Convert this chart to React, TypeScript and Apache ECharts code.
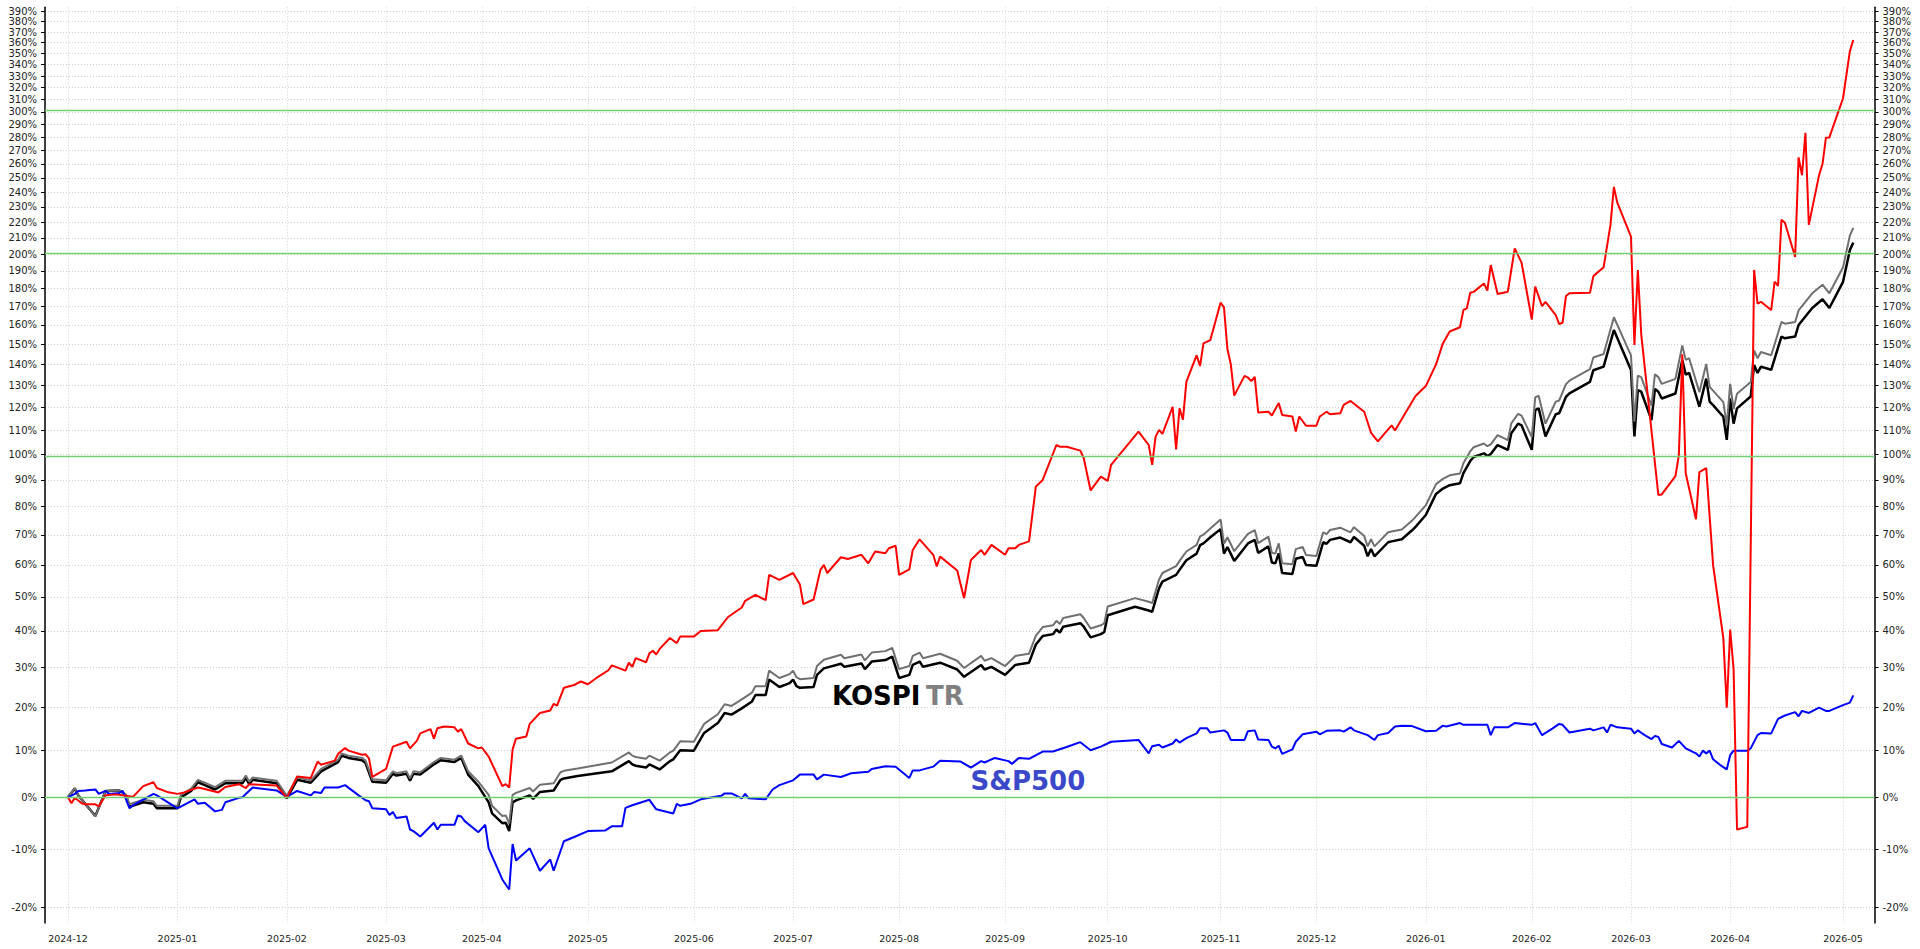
import React, { useEffect, useRef } from "react";
import * as echarts from "echarts";

type Pt = [string, number];

// Cumulative return in %
const stock: Pt[] = [
  ["2024-12-01", 0], ["2024-12-02", -1.2], ["2024-12-03", -0.1], ["2024-12-05", -1.2], ["2024-12-06", -1.4],
  ["2024-12-09", -1.4], ["2024-12-10", -1.8], ["2024-12-12", 0.4], ["2024-12-15", 0.6], ["2024-12-20", 0.1],
  ["2024-12-23", 2.3], ["2024-12-26", 3.1], ["2024-12-27", 1.9], ["2024-12-30", 1.1], ["2025-01-02", 0.7],
  ["2025-01-04", 1.0], ["2025-01-08", 2.0], ["2025-01-10", 1.7], ["2025-01-14", 1.0], ["2025-01-16", 2.1],
  ["2025-01-20", 2.7], ["2025-01-22", 1.9], ["2025-01-23", 2.7], ["2025-01-31", 2.4], ["2025-02-03", -0.1],
  ["2025-02-06", 4.3], ["2025-02-10", 4.0], ["2025-02-12", 7.5], ["2025-02-13", 6.8], ["2025-02-17", 7.7],
  ["2025-02-18", 9.2], ["2025-02-20", 10.5], ["2025-02-21", 9.9], ["2025-02-25", 9.0], ["2025-02-26", 9.1],
  ["2025-02-27", 8.2], ["2025-02-28", 4.2], ["2025-03-04", 5.9], ["2025-03-06", 10.8], ["2025-03-10", 11.9],
  ["2025-03-11", 10.4], ["2025-03-13", 12.1], ["2025-03-14", 13.8], ["2025-03-17", 14.8], ["2025-03-18", 12.6],
  ["2025-03-19", 15.0], ["2025-03-21", 15.4], ["2025-03-24", 15.2], ["2025-03-25", 14.2], ["2025-03-26", 14.8],
  ["2025-03-28", 11.5], ["2025-03-31", 10.4], ["2025-04-01", 10.6], ["2025-04-03", 8.6], ["2025-04-07", 2.3],
  ["2025-04-08", 2.7], ["2025-04-09", 2.0], ["2025-04-10", 10.2], ["2025-04-11", 12.6], ["2025-04-14", 13.1],
  ["2025-04-15", 16.0], ["2025-04-18", 18.6], ["2025-04-21", 19.2], ["2025-04-22", 20.8], ["2025-04-23", 20.4],
  ["2025-04-25", 24.8], ["2025-04-28", 25.5], ["2025-04-30", 26.4], ["2025-05-02", 25.7], ["2025-05-05", 27.6],
  ["2025-05-08", 29.3], ["2025-05-09", 30.6], ["2025-05-13", 29.2], ["2025-05-14", 31.3], ["2025-05-15", 30.2],
  ["2025-05-16", 32.5], ["2025-05-19", 31.4], ["2025-05-20", 33.8], ["2025-05-21", 34.5], ["2025-05-22", 33.5],
  ["2025-05-23", 35.0], ["2025-05-26", 38.0], ["2025-05-28", 36.6], ["2025-05-29", 38.4], ["2025-06-02", 38.4],
  ["2025-06-04", 40.0], ["2025-06-09", 40.2], ["2025-06-12", 44.0], ["2025-06-16", 46.8], ["2025-06-17", 48.8],
  ["2025-06-20", 50.6], ["2025-06-23", 49.0], ["2025-06-24", 56.8], ["2025-06-27", 55.2], ["2025-07-01", 57.4],
  ["2025-07-03", 53.8], ["2025-07-04", 47.8], ["2025-07-07", 49.2], ["2025-07-09", 58.4], ["2025-07-10", 60.0],
  ["2025-07-11", 57.4], ["2025-07-15", 62.5], ["2025-07-17", 61.9], ["2025-07-21", 63.3], ["2025-07-23", 60.5],
  ["2025-07-25", 64.4], ["2025-07-28", 63.8], ["2025-07-29", 65.5], ["2025-07-31", 66.3], ["2025-08-01", 56.8],
  ["2025-08-04", 58.6], ["2025-08-05", 64.9], ["2025-08-07", 68.5], ["2025-08-11", 63.3], ["2025-08-12", 59.5],
  ["2025-08-13", 62.7], ["2025-08-18", 58.2], ["2025-08-20", 49.6], ["2025-08-22", 61.6], ["2025-08-25", 64.9],
  ["2025-08-26", 63.3], ["2025-08-28", 66.6], ["2025-09-01", 63.3], ["2025-09-02", 65.5], ["2025-09-04", 65.5],
  ["2025-09-05", 66.6], ["2025-09-08", 67.8], ["2025-09-10", 87.5], ["2025-09-12", 90.0], ["2025-09-16", 103.9],
  ["2025-09-17", 103.2], ["2025-09-19", 103.2], ["2025-09-23", 101.6], ["2025-09-24", 98.5], ["2025-09-26", 86.0],
  ["2025-09-29", 91.3], ["2025-10-01", 89.6], ["2025-10-02", 95.9], ["2025-10-10", 109.5], ["2025-10-13", 103.9],
  ["2025-10-14", 95.9], ["2025-10-15", 107.4], ["2025-10-16", 110.2], ["2025-10-17", 108.5], ["2025-10-20", 120.3],
  ["2025-10-21", 102.1], ["2025-10-22", 119.6], ["2025-10-23", 114.6], ["2025-10-24", 131.7], ["2025-10-27", 144.5],
  ["2025-10-28", 139.2], ["2025-10-29", 150.4], ["2025-10-31", 152.1], ["2025-11-03", 171.9], ["2025-11-04", 169.3],
  ["2025-11-05", 147.6], ["2025-11-06", 140.0], ["2025-11-07", 125.3], ["2025-11-10", 134.5], ["2025-11-11", 133.7],
  ["2025-11-12", 132.0], ["2025-11-13", 134.0], ["2025-11-14", 117.7], ["2025-11-17", 118.1], ["2025-11-18", 116.4],
  ["2025-11-20", 122.0], ["2025-11-21", 116.7], ["2025-11-24", 116.0], ["2025-11-25", 109.5], ["2025-11-26", 116.0],
  ["2025-11-28", 112.0], ["2025-12-01", 112.0], ["2025-12-02", 116.0], ["2025-12-04", 118.1], ["2025-12-05", 117.0],
  ["2025-12-08", 117.4], ["2025-12-09", 121.1], ["2025-12-11", 122.9], ["2025-12-15", 118.1], ["2025-12-17", 109.0],
  ["2025-12-19", 105.4], ["2025-12-23", 112.2], ["2025-12-24", 110.0], ["2025-12-30", 125.1], ["2026-01-02", 129.7],
  ["2026-01-05", 140.0], ["2026-01-07", 150.4], ["2026-01-09", 156.5], ["2026-01-12", 158.7], ["2026-01-13", 167.9],
  ["2026-01-14", 168.8], ["2026-01-15", 177.4], ["2026-01-16", 177.9], ["2026-01-19", 182.7], ["2026-01-20", 178.6],
  ["2026-01-21", 193.4], ["2026-01-23", 176.7], ["2026-01-26", 178.0], ["2026-01-28", 203.4], ["2026-01-30", 194.8],
  ["2026-02-02", 162.8], ["2026-02-03", 180.9], ["2026-02-05", 170.0], ["2026-02-06", 172.4], ["2026-02-09", 165.2],
  ["2026-02-10", 160.4], ["2026-02-11", 161.1], ["2026-02-12", 175.6], ["2026-02-13", 177.1], ["2026-02-19", 177.4],
  ["2026-02-20", 186.9], ["2026-02-23", 192.1], ["2026-02-25", 218.2], ["2026-02-26", 243.6], ["2026-02-27", 232.8],
  ["2026-03-03", 210.7], ["2026-03-04", 149.6], ["2026-03-05", 190.5], ["2026-03-06", 155.0], ["2026-03-11", 84.3],
  ["2026-03-12", 84.5], ["2026-03-16", 91.5], ["2026-03-17", 99.8], ["2026-03-18", 145.0], ["2026-03-19", 92.6],
  ["2026-03-22", 75.5], ["2026-03-23", 93.0], ["2026-03-25", 94.6], ["2026-03-27", 60.0], ["2026-03-30", 38.0],
  ["2026-03-31", 19.9], ["2026-04-01", 40.4], ["2026-04-02", 29.6], ["2026-04-03", -6.3], ["2026-04-06", -5.8],
  ["2026-04-08", 190.5], ["2026-04-09", 171.4], ["2026-04-10", 172.4], ["2026-04-13", 167.9], ["2026-04-14", 183.8],
  ["2026-04-15", 181.3], ["2026-04-16", 221.6], ["2026-04-17", 219.6], ["2026-04-20", 198.3], ["2026-04-21", 264.8],
  ["2026-04-22", 251.9], ["2026-04-23", 283.3], ["2026-04-24", 218.2], ["2026-04-27", 251.9], ["2026-04-28", 259.9],
  ["2026-04-29", 279.6], ["2026-04-30", 279.8], ["2026-05-04", 311.1], ["2026-05-06", 352.2], ["2026-05-07", 362.5],
];

const kospi: Pt[] = [
  ["2024-12-01", 0], ["2024-12-03", 1.8], ["2024-12-04", 0.4], ["2024-12-09", -3.7], ["2024-12-12", 1.3],
  ["2024-12-16", 1.4], ["2024-12-18", 0.4], ["2024-12-19", -1.9], ["2024-12-23", -1.0], ["2024-12-26", -1.3],
  ["2024-12-27", -2.2], ["2025-01-02", -2.2], ["2025-01-03", 0.0], ["2025-01-06", 1.3], ["2025-01-08", 3.1],
  ["2025-01-10", 2.5], ["2025-01-13", 1.6], ["2025-01-16", 2.9], ["2025-01-21", 2.9], ["2025-01-22", 4.0],
  ["2025-01-23", 2.7], ["2025-01-24", 3.6], ["2025-01-31", 2.9], ["2025-02-03", -0.2], ["2025-02-06", 3.6],
  ["2025-02-10", 3.0], ["2025-02-13", 5.4], ["2025-02-18", 7.4], ["2025-02-19", 8.8], ["2025-02-21", 8.3],
  ["2025-02-25", 7.8], ["2025-02-26", 7.2], ["2025-02-28", 3.2], ["2025-03-04", 3.0], ["2025-03-06", 4.9],
  ["2025-03-07", 4.5], ["2025-03-10", 4.9], ["2025-03-11", 3.4], ["2025-03-12", 4.9], ["2025-03-14", 4.7],
  ["2025-03-18", 6.9], ["2025-03-20", 7.8], ["2025-03-24", 7.4], ["2025-03-26", 8.3], ["2025-03-28", 4.7],
  ["2025-03-31", 2.3], ["2025-04-03", -1.0], ["2025-04-04", -3.2], ["2025-04-07", -5.1], ["2025-04-08", -5.0],
  ["2025-04-09", -6.6], ["2025-04-10", -1.0], ["2025-04-11", -0.6], ["2025-04-15", 0.4], ["2025-04-16", -0.3],
  ["2025-04-18", 1.1], ["2025-04-22", 1.4], ["2025-04-24", 3.6], ["2025-04-25", 3.9], ["2025-04-29", 4.4],
  ["2025-05-09", 5.4], ["2025-05-14", 7.6], ["2025-05-15", 6.9], ["2025-05-16", 6.6], ["2025-05-19", 6.2],
  ["2025-05-20", 6.9], ["2025-05-23", 5.8], ["2025-05-26", 7.6], ["2025-05-27", 8.0], ["2025-05-29", 10.0],
  ["2025-06-02", 9.9], ["2025-06-05", 13.9], ["2025-06-09", 16.2], ["2025-06-11", 18.6], ["2025-06-13", 18.2],
  ["2025-06-16", 19.7], ["2025-06-19", 21.4], ["2025-06-20", 23.0], ["2025-06-23", 23.0], ["2025-06-24", 26.9],
  ["2025-06-27", 25.0], ["2025-06-30", 26.0], ["2025-07-01", 26.9], ["2025-07-02", 25.2], ["2025-07-03", 24.8],
  ["2025-07-07", 25.0], ["2025-07-08", 28.1], ["2025-07-10", 29.8], ["2025-07-15", 31.0], ["2025-07-16", 30.2],
  ["2025-07-21", 31.1], ["2025-07-22", 29.6], ["2025-07-24", 31.6], ["2025-07-28", 32.0], ["2025-07-30", 32.9],
  ["2025-08-01", 27.3], ["2025-08-04", 28.1], ["2025-08-05", 30.7], ["2025-08-07", 31.6], ["2025-08-08", 30.2],
  ["2025-08-13", 31.3], ["2025-08-18", 29.5], ["2025-08-20", 27.6], ["2025-08-25", 30.7], ["2025-08-26", 29.5],
  ["2025-08-28", 30.2], ["2025-09-01", 28.1], ["2025-09-04", 30.7], ["2025-09-08", 31.3], ["2025-09-10", 36.2],
  ["2025-09-12", 38.6], ["2025-09-15", 39.1], ["2025-09-16", 40.4], ["2025-09-17", 39.5], ["2025-09-18", 41.2],
  ["2025-09-23", 42.2], ["2025-09-24", 41.2], ["2025-09-26", 38.2], ["2025-09-29", 39.1], ["2025-09-30", 39.7],
  ["2025-10-01", 44.5], ["2025-10-09", 47.0], ["2025-10-13", 45.9], ["2025-10-14", 45.5], ["2025-10-16", 52.6],
  ["2025-10-17", 54.7], ["2025-10-21", 56.8], ["2025-10-22", 58.4], ["2025-10-24", 61.5], ["2025-10-27", 63.7],
  ["2025-10-28", 66.5], ["2025-10-29", 67.1], ["2025-10-31", 69.2], ["2025-11-03", 72.0], ["2025-11-04", 63.7],
  ["2025-11-05", 65.9], ["2025-11-07", 61.3], ["2025-11-11", 67.1], ["2025-11-13", 68.3], ["2025-11-14", 63.9],
  ["2025-11-17", 66.1], ["2025-11-18", 60.8], ["2025-11-19", 60.5], ["2025-11-20", 63.8], ["2025-11-21", 57.4],
  ["2025-11-24", 57.1], ["2025-11-25", 62.0], ["2025-11-27", 62.6], ["2025-11-28", 60.0], ["2025-12-01", 59.7],
  ["2025-12-03", 67.5], ["2025-12-04", 67.0], ["2025-12-05", 68.3], ["2025-12-08", 69.1], ["2025-12-11", 67.5],
  ["2025-12-12", 69.3], ["2025-12-15", 66.3], ["2025-12-16", 62.8], ["2025-12-17", 65.2], ["2025-12-18", 62.8],
  ["2025-12-22", 67.5], ["2025-12-23", 67.8], ["2025-12-26", 68.5], ["2025-12-29", 71.6], ["2025-12-30", 72.8],
  ["2026-01-02", 77.0], ["2026-01-05", 84.7], ["2026-01-07", 86.7], ["2026-01-09", 88.0], ["2026-01-12", 88.7],
  ["2026-01-13", 92.6], ["2026-01-15", 97.4], ["2026-01-16", 99.0], ["2026-01-19", 100.5], ["2026-01-20", 99.4],
  ["2026-01-21", 100.2], ["2026-01-23", 103.9], ["2026-01-26", 101.9], ["2026-01-27", 108.8], ["2026-01-29", 112.9],
  ["2026-01-30", 112.2], ["2026-02-02", 101.9], ["2026-02-03", 118.8], ["2026-02-04", 119.6], ["2026-02-06", 107.5],
  ["2026-02-09", 117.0], ["2026-02-10", 117.4], ["2026-02-12", 124.8], ["2026-02-13", 126.3], ["2026-02-19", 131.7],
  ["2026-02-20", 137.2], ["2026-02-23", 138.9], ["2026-02-26", 157.3], ["2026-03-03", 137.3], ["2026-03-04", 107.5],
  ["2026-03-05", 127.8], ["2026-03-06", 127.1], ["2026-03-09", 114.4], ["2026-03-10", 128.4], ["2026-03-11", 127.1],
  ["2026-03-12", 124.0], ["2026-03-16", 126.3], ["2026-03-18", 142.1], ["2026-03-19", 135.1], ["2026-03-20", 135.9],
  ["2026-03-23", 120.3], ["2026-03-25", 133.2], ["2026-03-26", 122.6], ["2026-03-27", 121.0], ["2026-03-30", 115.9],
  ["2026-03-31", 106.0], ["2026-04-01", 124.0], ["2026-04-02", 112.9], ["2026-04-03", 119.6], ["2026-04-07", 124.9],
  ["2026-04-08", 139.7], ["2026-04-09", 135.9], ["2026-04-10", 138.9], ["2026-04-13", 137.4], ["2026-04-16", 153.9],
  ["2026-04-17", 153.0], ["2026-04-20", 153.9], ["2026-04-21", 159.9], ["2026-04-23", 164.4], ["2026-04-25", 169.0],
  ["2026-04-28", 173.8], ["2026-04-30", 169.0], ["2026-05-04", 183.6], ["2026-05-06", 202.4], ["2026-05-07", 207.0],
];

const kospiTR: Pt[] = [
  ["2024-12-01", 0], ["2024-12-03", 1.9], ["2024-12-04", 0.4], ["2024-12-09", -3.8], ["2024-12-12", 1.3],
  ["2024-12-16", 1.4], ["2024-12-18", 0.5], ["2024-12-19", -1.4], ["2024-12-23", -0.5], ["2024-12-26", -0.8],
  ["2024-12-27", -1.7], ["2025-01-02", -1.7], ["2025-01-03", 0.5], ["2025-01-06", 1.8], ["2025-01-08", 3.6],
  ["2025-01-10", 3.0], ["2025-01-13", 2.1], ["2025-01-16", 3.4], ["2025-01-21", 3.4], ["2025-01-22", 4.5],
  ["2025-01-23", 3.2], ["2025-01-24", 4.1], ["2025-01-31", 3.4], ["2025-02-03", 0.3], ["2025-02-06", 4.1],
  ["2025-02-10", 3.5], ["2025-02-13", 5.9], ["2025-02-18", 7.9], ["2025-02-19", 9.3], ["2025-02-21", 8.8],
  ["2025-02-25", 8.3], ["2025-02-26", 7.7], ["2025-02-28", 3.7], ["2025-03-04", 3.5], ["2025-03-06", 5.4],
  ["2025-03-07", 5.0], ["2025-03-10", 5.4], ["2025-03-11", 3.9], ["2025-03-12", 5.4], ["2025-03-14", 5.2],
  ["2025-03-18", 7.4], ["2025-03-20", 8.3], ["2025-03-24", 7.9], ["2025-03-26", 8.8], ["2025-03-28", 5.4],
  ["2025-03-31", 3.2], ["2025-04-03", 0.5], ["2025-04-04", -1.7], ["2025-04-07", -3.7], ["2025-04-08", -3.6],
  ["2025-04-09", -5.2], ["2025-04-10", 0.5], ["2025-04-11", 0.9], ["2025-04-15", 1.9], ["2025-04-16", 1.2],
  ["2025-04-18", 2.6], ["2025-04-22", 2.9], ["2025-04-24", 5.2], ["2025-04-25", 5.5], ["2025-04-29", 6.0],
  ["2025-05-09", 7.3], ["2025-05-14", 9.5], ["2025-05-15", 8.8], ["2025-05-16", 8.5], ["2025-05-19", 8.1],
  ["2025-05-20", 8.8], ["2025-05-23", 7.7], ["2025-05-26", 9.5], ["2025-05-27", 9.9], ["2025-05-29", 12.0],
  ["2025-06-02", 11.9], ["2025-06-05", 16.0], ["2025-06-09", 18.3], ["2025-06-11", 20.7], ["2025-06-13", 20.3],
  ["2025-06-16", 21.9], ["2025-06-19", 23.6], ["2025-06-20", 25.2], ["2025-06-23", 25.2], ["2025-06-24", 29.2],
  ["2025-06-27", 27.3], ["2025-06-30", 28.3], ["2025-07-01", 29.2], ["2025-07-02", 27.5], ["2025-07-03", 27.0],
  ["2025-07-07", 27.3], ["2025-07-08", 30.4], ["2025-07-10", 32.1], ["2025-07-15", 33.4], ["2025-07-16", 32.5],
  ["2025-07-21", 33.5], ["2025-07-22", 31.9], ["2025-07-24", 34.0], ["2025-07-28", 34.4], ["2025-07-30", 35.3],
  ["2025-08-01", 29.6], ["2025-08-04", 30.4], ["2025-08-05", 33.1], ["2025-08-07", 34.0], ["2025-08-08", 32.5],
  ["2025-08-13", 33.7], ["2025-08-18", 31.8], ["2025-08-20", 29.9], ["2025-08-25", 33.1], ["2025-08-26", 31.8],
  ["2025-08-28", 32.5], ["2025-09-01", 30.4], ["2025-09-04", 33.1], ["2025-09-08", 33.7], ["2025-09-10", 38.7],
  ["2025-09-12", 41.1], ["2025-09-15", 41.6], ["2025-09-16", 42.9], ["2025-09-17", 42.0], ["2025-09-18", 43.7],
  ["2025-09-23", 44.8], ["2025-09-24", 43.7], ["2025-09-26", 40.7], ["2025-09-29", 41.6], ["2025-09-30", 42.2],
  ["2025-10-01", 47.1], ["2025-10-09", 49.6], ["2025-10-13", 48.5], ["2025-10-14", 48.1], ["2025-10-16", 55.3],
  ["2025-10-17", 57.4], ["2025-10-21", 59.6], ["2025-10-22", 61.3], ["2025-10-24", 64.4], ["2025-10-27", 66.6],
  ["2025-10-28", 69.5], ["2025-10-29", 70.1], ["2025-10-31", 72.2], ["2025-11-03", 75.4], ["2025-11-04", 67.0],
  ["2025-11-05", 69.2], ["2025-11-07", 64.5], ["2025-11-11", 70.4], ["2025-11-13", 71.7], ["2025-11-14", 67.2],
  ["2025-11-17", 69.4], ["2025-11-18", 64.0], ["2025-11-19", 63.7], ["2025-11-20", 67.1], ["2025-11-21", 60.5],
  ["2025-11-24", 60.2], ["2025-11-25", 65.2], ["2025-11-27", 65.9], ["2025-11-28", 63.2], ["2025-12-01", 62.9],
  ["2025-12-03", 70.9], ["2025-12-04", 70.3], ["2025-12-05", 71.7], ["2025-12-08", 72.5], ["2025-12-11", 70.9],
  ["2025-12-12", 72.7], ["2025-12-15", 69.6], ["2025-12-16", 66.1], ["2025-12-17", 68.5], ["2025-12-18", 66.1],
  ["2025-12-22", 70.9], ["2025-12-23", 71.2], ["2025-12-26", 71.9], ["2025-12-29", 75.0], ["2025-12-30", 76.3],
  ["2026-01-02", 80.5], ["2026-01-05", 88.4], ["2026-01-07", 90.4], ["2026-01-09", 91.8], ["2026-01-12", 92.5],
  ["2026-01-13", 96.5], ["2026-01-15", 101.3], ["2026-01-16", 103.0], ["2026-01-19", 104.5], ["2026-01-20", 103.4],
  ["2026-01-21", 104.2], ["2026-01-23", 108.0], ["2026-01-26", 105.9], ["2026-01-27", 113.0], ["2026-01-29", 117.2],
  ["2026-01-30", 116.4], ["2026-02-02", 107.2], ["2026-02-03", 124.5], ["2026-02-04", 125.3], ["2026-02-06", 112.9],
  ["2026-02-09", 122.6], ["2026-02-10", 123.1], ["2026-02-12", 130.6], ["2026-02-13", 132.2], ["2026-02-19", 137.7],
  ["2026-02-20", 143.4], ["2026-02-23", 145.1], ["2026-02-26", 164.0], ["2026-03-03", 144.4], ["2026-03-04", 113.7],
  ["2026-03-05", 134.6], ["2026-03-06", 133.9], ["2026-03-09", 120.8], ["2026-03-10", 135.3], ["2026-03-11", 133.9],
  ["2026-03-12", 130.7], ["2026-03-16", 133.1], ["2026-03-18", 149.4], ["2026-03-19", 142.2], ["2026-03-20", 143.0],
  ["2026-03-23", 126.9], ["2026-03-25", 140.2], ["2026-03-26", 129.3], ["2026-03-27", 127.6], ["2026-03-30", 122.4],
  ["2026-03-31", 112.2], ["2026-04-01", 130.7], ["2026-04-02", 119.3], ["2026-04-03", 126.2], ["2026-04-07", 131.6],
  ["2026-04-08", 146.9], ["2026-04-09", 143.0], ["2026-04-10", 146.1], ["2026-04-13", 144.5], ["2026-04-16", 161.5],
  ["2026-04-17", 160.6], ["2026-04-20", 161.5], ["2026-04-21", 167.7], ["2026-04-23", 172.3], ["2026-04-25", 177.1],
  ["2026-04-28", 182.0], ["2026-04-30", 177.1], ["2026-05-04", 192.1], ["2026-05-06", 211.5], ["2026-05-07", 216.2],
];

const sp500: Pt[] = [
  ["2024-12-01", 0], ["2024-12-03", 0.7], ["2024-12-04", 1.3], ["2024-12-06", 1.4], ["2024-12-09", 1.6],
  ["2024-12-10", 0.7], ["2024-12-12", 1.3], ["2024-12-13", 0.7], ["2024-12-16", 0.9], ["2024-12-17", 1.3],
  ["2024-12-19", -2.2], ["2024-12-20", -1.6], ["2024-12-26", 0.7], ["2024-12-27", 0.4], ["2025-01-02", -2.2],
  ["2025-01-07", -0.4], ["2025-01-08", -1.3], ["2025-01-10", -1.1], ["2025-01-13", -2.8], ["2025-01-15", -2.5],
  ["2025-01-16", -1.0], ["2025-01-20", -0.1], ["2025-01-21", 0.0], ["2025-01-24", 2.0], ["2025-01-31", 1.4],
  ["2025-02-03", 0.1], ["2025-02-06", 1.3], ["2025-02-10", 0.4], ["2025-02-11", 1.1], ["2025-02-13", 0.9],
  ["2025-02-14", 2.0], ["2025-02-18", 2.0], ["2025-02-20", 2.5], ["2025-02-24", 0.4], ["2025-02-26", -0.6],
  ["2025-02-27", -0.8], ["2025-02-28", -2.2], ["2025-03-04", -2.4], ["2025-03-05", -3.5], ["2025-03-06", -2.9],
  ["2025-03-07", -4.1], ["2025-03-10", -3.8], ["2025-03-11", -6.3], ["2025-03-12", -6.6], ["2025-03-14", -7.6],
  ["2025-03-18", -5.0], ["2025-03-19", -6.3], ["2025-03-20", -5.4], ["2025-03-24", -5.4], ["2025-03-25", -3.6],
  ["2025-03-26", -3.8], ["2025-03-27", -4.7], ["2025-03-31", -6.8], ["2025-04-02", -5.4], ["2025-04-03", -9.8],
  ["2025-04-07", -15.3], ["2025-04-09", -17.0], ["2025-04-10", -9.0], ["2025-04-11", -12.0], ["2025-04-15", -9.8],
  ["2025-04-18", -13.8], ["2025-04-21", -11.8], ["2025-04-22", -13.8], ["2025-04-25", -8.5], ["2025-04-28", -7.7],
  ["2025-05-02", -6.6], ["2025-05-07", -6.5], ["2025-05-09", -5.7], ["2025-05-12", -5.7], ["2025-05-13", -2.1],
  ["2025-05-15", -1.6], ["2025-05-20", -0.5], ["2025-05-22", -2.4], ["2025-05-27", -3.2], ["2025-05-28", -1.3],
  ["2025-05-29", -1.7], ["2025-06-01", -1.3], ["2025-06-04", -0.4], ["2025-06-10", 0.3], ["2025-06-11", 0.8],
  ["2025-06-13", 0.8], ["2025-06-16", -0.2], ["2025-06-17", 0.7], ["2025-06-18", -0.2], ["2025-06-23", -0.4],
  ["2025-06-25", 1.6], ["2025-06-27", 2.5], ["2025-07-01", 3.5], ["2025-07-03", 4.7], ["2025-07-07", 4.7],
  ["2025-07-08", 3.7], ["2025-07-10", 4.7], ["2025-07-15", 4.2], ["2025-07-18", 5.0], ["2025-07-23", 5.3],
  ["2025-07-24", 5.9], ["2025-07-28", 6.5], ["2025-07-31", 6.4], ["2025-08-04", 4.0], ["2025-08-05", 5.6],
  ["2025-08-07", 5.6], ["2025-08-11", 6.4], ["2025-08-13", 7.7], ["2025-08-19", 7.5], ["2025-08-22", 6.2],
  ["2025-08-25", 7.6], ["2025-08-26", 7.3], ["2025-08-29", 8.3], ["2025-09-02", 7.6], ["2025-09-03", 7.0],
  ["2025-09-05", 8.3], ["2025-09-08", 8.1], ["2025-09-12", 9.7], ["2025-09-15", 9.7], ["2025-09-19", 10.7],
  ["2025-09-23", 11.8], ["2025-09-26", 10.0], ["2025-09-29", 10.8], ["2025-10-02", 11.9], ["2025-10-10", 12.3],
  ["2025-10-13", 9.3], ["2025-10-14", 10.9], ["2025-10-16", 11.2], ["2025-10-17", 10.6], ["2025-10-20", 11.5],
  ["2025-10-21", 12.4], ["2025-10-22", 11.7], ["2025-10-24", 12.7], ["2025-10-27", 13.8], ["2025-10-28", 15.0],
  ["2025-10-30", 15.0], ["2025-10-31", 14.0], ["2025-11-04", 14.5], ["2025-11-05", 14.0], ["2025-11-06", 12.3],
  ["2025-11-10", 12.3], ["2025-11-11", 14.3], ["2025-11-13", 14.5], ["2025-11-14", 12.4], ["2025-11-17", 12.3],
  ["2025-11-18", 10.8], ["2025-11-19", 10.4], ["2025-11-20", 11.0], ["2025-11-21", 9.2], ["2025-11-24", 10.2],
  ["2025-11-25", 11.9], ["2025-11-27", 13.6], ["2025-12-01", 14.2], ["2025-12-02", 13.6], ["2025-12-04", 14.4],
  ["2025-12-08", 14.5], ["2025-12-09", 14.2], ["2025-12-11", 15.2], ["2025-12-12", 14.5], ["2025-12-16", 13.4],
  ["2025-12-18", 12.3], ["2025-12-19", 13.4], ["2025-12-22", 13.9], ["2025-12-24", 15.4], ["2025-12-26", 15.6],
  ["2025-12-29", 15.5], ["2026-01-02", 14.3], ["2026-01-05", 14.4], ["2026-01-07", 15.6], ["2026-01-08", 15.4],
  ["2026-01-12", 16.2], ["2026-01-13", 15.8], ["2026-01-20", 15.8], ["2026-01-21", 13.4], ["2026-01-22", 15.2],
  ["2026-01-26", 15.2], ["2026-01-28", 16.2], ["2026-02-02", 15.8], ["2026-02-03", 16.2], ["2026-02-05", 13.4],
  ["2026-02-08", 14.9], ["2026-02-10", 16.0], ["2026-02-11", 15.8], ["2026-02-13", 14.0], ["2026-02-15", 14.3],
  ["2026-02-19", 14.9], ["2026-02-20", 14.5], ["2026-02-23", 15.2], ["2026-02-24", 14.0], ["2026-02-25", 15.8],
  ["2026-02-27", 15.2], ["2026-03-03", 14.9], ["2026-03-04", 13.8], ["2026-03-05", 14.5], ["2026-03-07", 13.4],
  ["2026-03-09", 12.5], ["2026-03-10", 13.2], ["2026-03-11", 13.0], ["2026-03-12", 11.4], ["2026-03-15", 10.6],
  ["2026-03-17", 12.1], ["2026-03-19", 10.4], ["2026-03-22", 9.3], ["2026-03-23", 8.6], ["2026-03-24", 9.9],
  ["2026-03-25", 9.3], ["2026-03-26", 9.9], ["2026-03-27", 8.0], ["2026-03-29", 6.8], ["2026-03-31", 5.8],
  ["2026-04-01", 8.9], ["2026-04-02", 9.9], ["2026-04-06", 9.9], ["2026-04-07", 10.4], ["2026-04-09", 13.4],
  ["2026-04-10", 13.9], ["2026-04-13", 13.8], ["2026-04-15", 17.2], ["2026-04-17", 18.0], ["2026-04-20", 18.8],
  ["2026-04-21", 17.8], ["2026-04-22", 19.1], ["2026-04-24", 18.6], ["2026-04-27", 19.9], ["2026-04-29", 19.1],
  ["2026-04-30", 19.1], ["2026-05-04", 20.5], ["2026-05-06", 21.1], ["2026-05-07", 22.9],
];

// First trading day of each month (x tick positions), labelled YYYY-MM
const monthTicks: string[] = [
  "2024-12-01", "2025-01-02", "2025-02-03", "2025-03-04", "2025-04-01", "2025-05-02",
  "2025-06-02", "2025-07-01", "2025-08-01", "2025-09-01", "2025-10-01", "2025-11-03",
  "2025-12-01", "2026-01-02", "2026-02-02", "2026-03-03", "2026-04-01", "2026-05-04",
];

const yTickPcts: number[] = [];
for (let p = -20; p <= 390; p += 10) yTickPcts.push(p);
const guidePcts: number[] = [0, 100, 200, 300];

const X_MIN = "2024-11-24 06:43";
const X_MAX = "2026-05-13 04:48";
const Y_MIN_PCT = -22.44;
const Y_MAX_PCT = 394.1;

// local-time parse of "YYYY-MM-DD" or "YYYY-MM-DD HH:mm"
const ts = (s: string) => {
  const [d, t] = s.split(" ");
  const [y, m, dd] = d.split("-").map(Number);
  const [hh, mm] = t ? t.split(":").map(Number) : [0, 0];
  return new Date(y, m - 1, dd, hh, mm).getTime();
};
const toLog = (p: number) => Math.log(1 + p / 100);
const pctLabel = (v: number) => `${Math.round((Math.exp(v) - 1) * 100)}%`;
const monthLabel = (v: number) => {
  const d = new Date(v);
  return `${d.getFullYear()}-${String(d.getMonth() + 1).padStart(2, "0")}`;
};
const conv = (arr: Pt[]) => arr.map(([d, v]) => [ts(d), toLog(v)]);

export default function App() {
  const ref = useRef<HTMLDivElement>(null);
  useEffect(() => {
    if (!ref.current) return;
    const chart = echarts.init(ref.current, null, { renderer: "svg" });
    const yTickVals = yTickPcts.map(toLog);
    const xTickVals = monthTicks.map(ts);
    const yAxisBase = (pos: "left" | "right", split: boolean) => ({
      type: "value",
      position: pos,
      min: toLog(Y_MIN_PCT),
      max: toLog(Y_MAX_PCT),
      axisLine: { show: true, lineStyle: { color: "#000", width: 1.5 } },
      axisTick: { show: true, length: 4, lineStyle: { color: "#000" }, customValues: yTickVals },
      axisLabel: {
        customValues: yTickVals,
        formatter: pctLabel,
        showMinLabel: true,
        showMaxLabel: true,
        hideOverlap: false,
        fontSize: 10,
        lineHeight: 10,
        fontFamily: "DejaVu Sans",
        color: "#222",
        margin: 8,
      },
      splitLine: { show: split, lineStyle: { color: "#cfcfcf", type: [1, 2], width: 1 } },
    });
    chart.setOption({
      animation: false,
      backgroundColor: "#fff",
      grid: { left: 45, right: 45.5, top: 7.3, bottom: 26, outerBoundsMode: "none" },
      xAxis: {
        type: "value",
        min: ts(X_MIN),
        max: ts(X_MAX),
        axisLine: { show: false },
        axisTick: { show: false, customValues: xTickVals },
        axisLabel: {
          customValues: xTickVals,
          formatter: monthLabel,
          showMinLabel: true,
          showMaxLabel: true,
          fontSize: 9.5,
          fontFamily: "DejaVu Sans",
          color: "#222",
          margin: 10,
        },
        splitLine: { show: true, lineStyle: { color: "#d4d4d4", type: [1, 2], width: 1 } },
      },
      yAxis: [yAxisBase("left", true), yAxisBase("right", false)],
      series: [
        {
          type: "line",
          name: "guides",
          data: [],
          silent: true,
          markLine: {
            silent: true,
            symbol: ["none", "none"],
            label: { show: false },
            lineStyle: { color: "#74cf74", width: 1.4, type: "solid" },
            data: guidePcts.map((p) => ({ yAxis: toLog(p) })),
          },
        },
        {
          type: "line", name: "KOSPI", data: conv(kospi), showSymbol: false, symbol: "none",
          lineStyle: { color: "#000", width: 2.5 }, itemStyle: { color: "#000" },
        },
        {
          type: "line", name: "KOSPI TR", data: conv(kospiTR), showSymbol: false, symbol: "none",
          lineStyle: { color: "#707070", width: 2 }, itemStyle: { color: "#707070" },
        },
        {
          type: "line", name: "S&P500", data: conv(sp500), showSymbol: false, symbol: "none",
          lineStyle: { color: "#0000ff", width: 2 }, itemStyle: { color: "#0000ff" },
        },
        {
          type: "line", name: "Stock", data: conv(stock), showSymbol: false, symbol: "none",
          lineStyle: { color: "#ff0000", width: 2 }, itemStyle: { color: "#ff0000" },
        },
      ],
      graphic: [
        {
          type: "text", x: 832, y: 695.5, z: 100,
          style: { text: "KOSPI", fontSize: 26, fontWeight: "bold", fontFamily: "DejaVu Sans", fill: "#000", align: "left", verticalAlign: "middle" },
        },
        {
          type: "text", x: 926, y: 695.5, z: 100,
          style: { text: "TR", fontSize: 26, fontWeight: "bold", fontFamily: "DejaVu Sans", fill: "#808080", align: "left", verticalAlign: "middle" },
        },
        {
          type: "text", x: 970.5, y: 780.5, z: 100,
          style: { text: "S&P500", fontSize: 26, fontWeight: "bold", fontFamily: "DejaVu Sans", fill: "#3a48c9", align: "left", verticalAlign: "middle" },
        },
      ],
    });
    return () => chart.dispose();
  }, []);
  return (
    <div
      ref={ref}
      style={{ position: "fixed", left: 0, top: 0, width: 1920, height: 949, background: "#fff" }}
    />
  );
}
